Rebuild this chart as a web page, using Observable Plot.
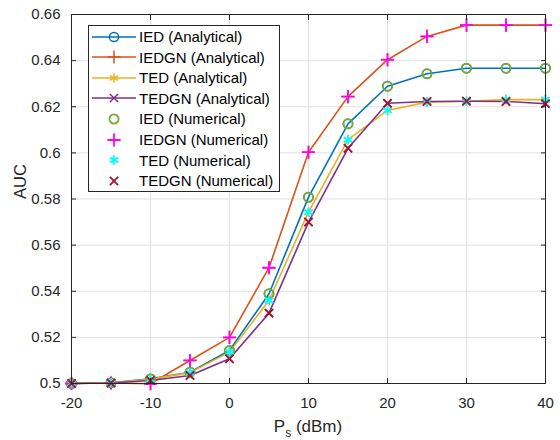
<!DOCTYPE html>
<html><head><meta charset="utf-8">
<script src="https://cdn.jsdelivr.net/npm/d3@7"></script>
<script src="https://cdn.jsdelivr.net/npm/@observablehq/plot@0.6"></script>
<style>
body{margin:0;background:#fff;font-family:"Liberation Sans",Arial,Helvetica,sans-serif}
#c{position:relative;width:560px;height:440px}
#legend{position:absolute;left:88px;top:25px;width:190px;height:165px;border:1px solid #262626;background:#fff;box-sizing:content-box}
.row{position:absolute;left:0;height:20px;display:flex;align-items:center;font-size:15px;color:#000;white-space:nowrap}
.row svg{width:48px;height:20px;margin-right:2px;flex:none}
</style>
</head><body><div id="c"></div>
<script>
const psDbm = [-20, -15, -10, -5, 0, 5, 10, 15, 20, 25, 30, 35, 40];
const iedAna   = [0.5, 0.5003, 0.5020, 0.5049, 0.5143, 0.5389, 0.5808, 0.6126, 0.6289, 0.6343, 0.6367, 0.6367, 0.6367];
const iedgnAna = [0.5, 0.5002, 0.4999, 0.5100, 0.5200, 0.5502, 0.6003, 0.6244, 0.6404, 0.6505, 0.6554, 0.6554, 0.6554];
const tedAna   = [0.5, 0.5003, 0.5018, 0.5047, 0.5136, 0.5360, 0.5743, 0.6057, 0.6184, 0.6220, 0.6224, 0.6231, 0.6231];
const tedgnAna = [0.5, 0.5002, 0.5013, 0.5035, 0.5107, 0.5305, 0.5700, 0.6020, 0.6215, 0.6223, 0.6224, 0.6223, 0.6213];
const iedNum   = [0.5, 0.5003, 0.5020, 0.5049, 0.5143, 0.5389, 0.5808, 0.6126, 0.6289, 0.6343, 0.6367, 0.6367, 0.6367];
const iedgnNum = [0.5, 0.5002, 0.4999, 0.5100, 0.5200, 0.5502, 0.6003, 0.6244, 0.6404, 0.6505, 0.6554, 0.6554, 0.6554];
const tedNum   = [0.5, 0.5003, 0.5018, 0.5047, 0.5136, 0.5360, 0.5743, 0.6057, 0.6184, 0.6220, 0.6224, 0.6231, 0.6231];
const tedgnNum = [0.5, 0.5002, 0.5013, 0.5035, 0.5107, 0.5305, 0.5700, 0.6020, 0.6215, 0.6223, 0.6224, 0.6223, 0.6213];

const seriesNames = ["IED (Analytical)", "IEDGN (Analytical)", "TED (Analytical)", "TEDGN (Analytical)",
                     "IED (Numerical)", "IEDGN (Numerical)", "TED (Numerical)", "TEDGN (Numerical)"];
const seriesValues = [iedAna, iedgnAna, tedAna, tedgnAna, iedNum, iedgnNum, tedNum, tedgnNum];
const seriesColors = ["#0072BD", "#D95319", "#EDB120", "#7E2F8E", "#77AC30", "#FF00FF", "#00FFFF", "#A2142F"];
const seriesSymbols = ["circle", "plus", "asterisk", "times", "circle", "plus", "asterisk", "times"];
const symbolR = {circle: 4.6, plus: 4.3, asterisk: 4.5, times: 3.8};

const xTicks = [-20, -10, 0, 10, 20, 30, 40];
const xTickLabels = ["-20", "-10", "0", "10", "20", "30", "40"];
const yTicks = [0.5, 0.52, 0.54, 0.56, 0.58, 0.6, 0.62, 0.64, 0.66];
const yTickLabels = ["0.5", "0.52", "0.54", "0.56", "0.58", "0.6", "0.62", "0.64", "0.66"];

const rows = seriesNames.map((name, i) => psDbm.map((x, j) => ({x, y: seriesValues[i][j], series: name})));
const axisColor = "#262626";
const font = '"Liberation Sans", Arial, Helvetica, sans-serif';

const marks = [
  Plot.gridX(xTicks, {stroke: "#e0e0e0", strokeOpacity: 1}),
  Plot.gridY(yTicks, {stroke: "#e0e0e0", strokeOpacity: 1}),
];
for (let i = 0; i < 4; i++) {
  marks.push(Plot.line(rows[i], {x: "x", y: "y", stroke: seriesColors[i], strokeWidth: 1.6}));
}
for (let i = 0; i < 8; i++) {
  marks.push(Plot.dot(rows[i], {x: "x", y: "y", stroke: seriesColors[i], symbol: seriesSymbols[i],
    r: symbolR[seriesSymbols[i]], strokeWidth: i < 4 ? 1.5 : 1.8}));
}
marks.push(
  Plot.axisX(xTicks, {anchor: "bottom", tickSize: -5, tickPadding: 19, stroke: axisColor, fill: axisColor,
    tickFormat: (d) => xTickLabels[xTicks.indexOf(d)], fontSize: 15, label: null}),
  Plot.axisX(xTicks, {anchor: "top", tickSize: -5, tickFormat: () => "", stroke: axisColor, label: null}),
  Plot.axisY(yTicks, {anchor: "left", tickSize: -5, tickPadding: 16, stroke: axisColor, fill: axisColor,
    tickFormat: (d) => yTickLabels[yTicks.indexOf(d)], fontSize: 15, label: null}),
  Plot.axisY(yTicks, {anchor: "right", tickSize: -5, tickFormat: () => "", stroke: axisColor, label: null}),
  Plot.frame({stroke: axisColor, strokeWidth: 1}),
  Plot.text(["AUC"], {frameAnchor: "left", dx: -51, rotate: -90, fontSize: 16.5, fill: axisColor})
);

const chart = Plot.plot({
  width: 560, height: 440,
  marginLeft: 71, marginRight: 15, marginTop: 14, marginBottom: 57,
  x: {domain: [-20, 40]},
  y: {domain: [0.5, 0.66]},
  style: {fontFamily: font, background: "#fff"},
  marks
});
const c = document.getElementById("c");
c.appendChild(chart);

// x label with subscript
const svg = d3.select(chart);
const xl = svg.append("text").attr("x", 308).attr("y", 432).attr("text-anchor", "middle")
  .attr("font-size", 17).attr("fill", axisColor).style("font-family", font);
xl.append("tspan").text("P");
xl.append("tspan").attr("font-size", 12).attr("dy", 5).text("s");
xl.append("tspan").attr("dy", -5).text(" (dBm)");

// legend
const legend = document.createElement("div");
legend.id = "legend";
c.appendChild(legend);
const symTypes = {circle: d3.symbolCircle, plus: d3.symbolPlus, asterisk: d3.symbolAsterisk, times: d3.symbolTimes};
seriesNames.forEach((name, i) => {
  const row = document.createElement("div");
  row.className = "row";
  row.style.top = (0.7 + i * 20.57) + "px";
  const s = seriesSymbols[i];
  const r = symbolR[s];
  const path = d3.symbol(symTypes[s], Math.PI * r * r)();
  const line = i < 4 ? `<line x1="3" x2="47" y1="10" y2="10" stroke="${seriesColors[i]}" stroke-width="1.6"/>` : "";
  row.innerHTML = `<svg viewBox="0 0 48 20">${line}<path d="${path}" transform="translate(25,10)" fill="none" stroke="${seriesColors[i]}" stroke-width="${i < 4 ? 1.5 : 1.8}"/></svg><span>${name}</span>`;
  legend.appendChild(row);
});
</script>
</body></html>
